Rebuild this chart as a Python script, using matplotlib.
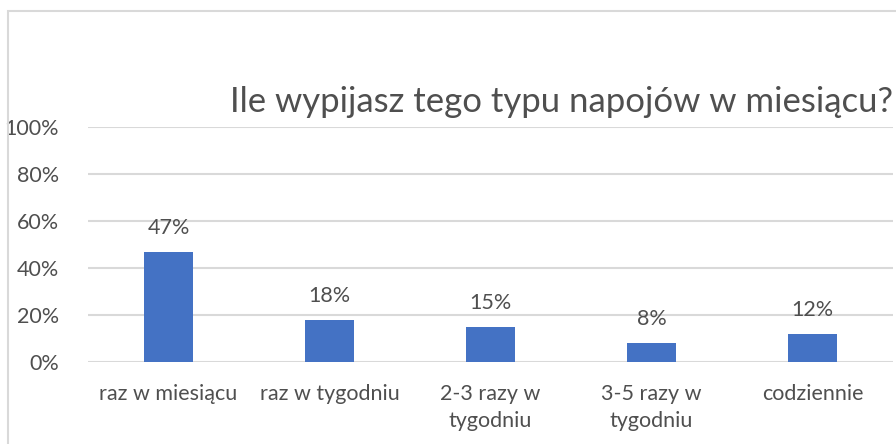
import matplotlib.pyplot as plt
from matplotlib.patches import Rectangle
from matplotlib.ticker import FuncFormatter

# data
categories = ["raz w miesiącu", "raz w tygodniu", "2-3 razy w\ntygodniu",
              "3-5 razy w\ntygodniu", "codziennie"]
values = [47, 18, 15, 8, 12]
title = "Ile wypijasz tego typu napojów w miesiącu?"

plt.rcParams['font.family'] = ['Lato', 'DejaVu Sans']
txt = '#4f4f4f'
grid = '#d9d9d9'

W, H = 896, 444
fig = plt.figure(figsize=(W / 100, H / 100), dpi=100)
fig.patch.set_facecolor('white')

# chart border (right and bottom edges fall outside the picture)
fig.patches.append(Rectangle((8 / W, -0.05), 1.2, 1 - 11 / H + 0.05,
                             transform=fig.transFigure, fill=False,
                             edgecolor=grid, linewidth=1.5))

ax = fig.add_axes([88 / W, 1 - 362 / H, (893 - 88) / W, (362 - 127) / H])
x = range(len(categories))
bars = ax.bar(x, values, width=0.31, color='#4472C4', zorder=3)

ax.set_ylim(0, 100)
ax.set_xlim(-0.5, len(categories) - 0.5)
ax.set_yticks(range(0, 101, 20))
ax.yaxis.set_major_formatter(FuncFormatter(lambda v, p: f"{v:.0f}%"))
ax.set_xticks(list(x))
ax.set_xticklabels(categories, linespacing=1.4)
ax.tick_params(axis='y', length=0, pad=21, labelsize=15.5, labelcolor=txt)
ax.tick_params(axis='x', length=0, pad=16, labelsize=15.5, labelcolor=txt)
ax.grid(axis='y', color=grid, linewidth=1.5, zorder=0)
for s in ax.spines.values():
    s.set_visible(False)

for b, v in zip(bars, values):
    ax.annotate(f"{v}%", (b.get_x() + b.get_width() / 2, v),
                xytext=(0, 10), textcoords='offset points',
                ha='center', va='bottom', fontsize=15.5, color=txt)

fig.text(561 / W, 1 - 112 / H, title, ha='center', va='baseline',
         fontsize=25, color=txt)

fig.savefig('out.png', dpi=100)
